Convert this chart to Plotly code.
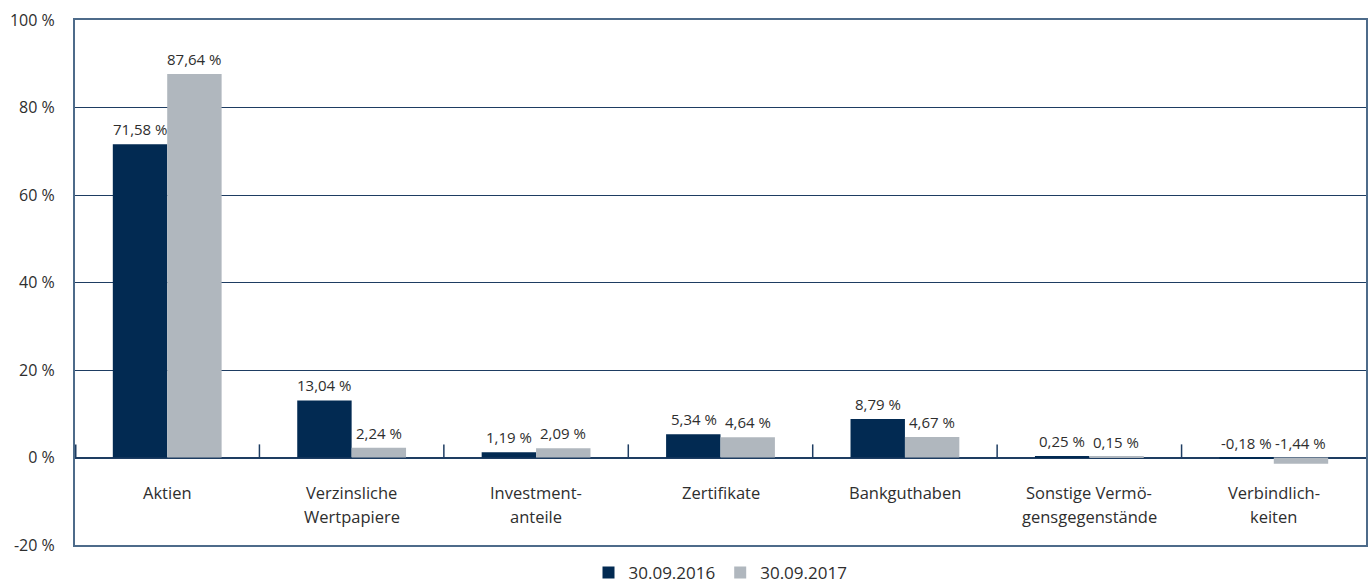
import plotly.graph_objects as go

categories = ["Aktien", "Verzinsliche<br>Wertpapiere", "Investment-<br>anteile", "Zertifikate",
              "Bankguthaben", "Sonstige Vermö-<br>gensgegenstände", "Verbindlich-<br>keiten"]
series_names = ["30.09.2016", "30.09.2017"]
values_2016 = [71.58, 13.04, 1.19, 5.34, 8.79, 0.25, -0.18]
values_2017 = [87.64, 2.24, 2.09, 4.64, 4.67, 0.15, -1.44]
y_ticks = [-20, 0, 20, 40, 60, 80, 100]

DARK = "#022a52"
GRAY = "#b0b7be"
GRID = "#1e3d62"
FRAME = "#4d6b8a"
TEXT = "#2e2e2e"
FONT = "Open Sans"

xpos = list(range(len(categories)))

fig = go.Figure()
fig.add_trace(go.Bar(x=xpos, y=values_2016, name=series_names[0], marker_color=DARK,
                     marker_line_width=0))
fig.add_trace(go.Bar(x=xpos, y=values_2017, name=series_names[1], marker_color=GRAY,
                     marker_line_width=0))

def fmt(v):
    return f"{v:.2f}".replace(".", ",") + " %"

annotations = []
for series, shift in ((values_2016, -27), (values_2017, 27)):
    for i, v in enumerate(series):
        annotations.append(dict(x=i, y=max(v, 0), xref="x", yref="y", text=fmt(v),
                                showarrow=False, xshift=shift, yshift=3, yanchor="bottom",
                                font=dict(family=FONT, size=15, color=TEXT)))

for i, cat in enumerate(categories):
    for j, line in enumerate(cat.split("<br>")):
        annotations.append(dict(x=i, y=0, xref="x", yref="y", text=line, showarrow=False,
                                yanchor="middle", yshift=-35 - 24 * j,
                                font=dict(family=FONT, size=16.5, color=TEXT)))

shapes = []
for i in range(len(categories) - 1):
    shapes.append(dict(type="line", xref="x", yref="y", x0=i + 0.5, x1=i + 0.5, y0=0, y1=3,
                       line=dict(color=GRID, width=1.5)))
shapes.append(dict(type="line", xref="x", yref="y", x0=-0.5, x1=-0.5, y0=0, y1=3,
                   line=dict(color=GRID, width=3)))

fig.update_layout(
    width=1372, height=583,
    margin=dict(l=75, r=6, t=20, b=38, autoexpand=False),
    paper_bgcolor="white", plot_bgcolor="white",
    barmode="group", bargap=0.41, bargroupgap=0,
    font=dict(family=FONT, size=14, color=TEXT),
    showlegend=True,
    legend=dict(orientation="h", x=0.5, xanchor="center", y=-0.053, yanchor="middle",
                font=dict(family=FONT, size=17, color=TEXT), itemwidth=30,
                traceorder="normal", bgcolor="rgba(0,0,0,0)"),
    annotations=annotations,
    shapes=shapes,
)
fig.update_xaxes(range=[-0.5, len(categories) - 0.5], showticklabels=False, showgrid=False,
                 zeroline=False, showline=True, linecolor=FRAME, linewidth=2, mirror=True,
                 ticks="", fixedrange=True)
fig.update_yaxes(range=[-20, 100], tickvals=y_ticks, ticktext=[f"{t} %" for t in y_ticks],
                 showgrid=True, gridcolor=GRID, gridwidth=1.2,
                 zeroline=True, zerolinecolor=GRID, zerolinewidth=1.5,
                 showline=True, linecolor=FRAME, linewidth=2, mirror=True,
                 ticks="outside", ticklen=15, tickcolor="rgba(0,0,0,0)",
                 tickfont=dict(family=FONT, size=16, color=TEXT))

fig.write_html("out.html")
